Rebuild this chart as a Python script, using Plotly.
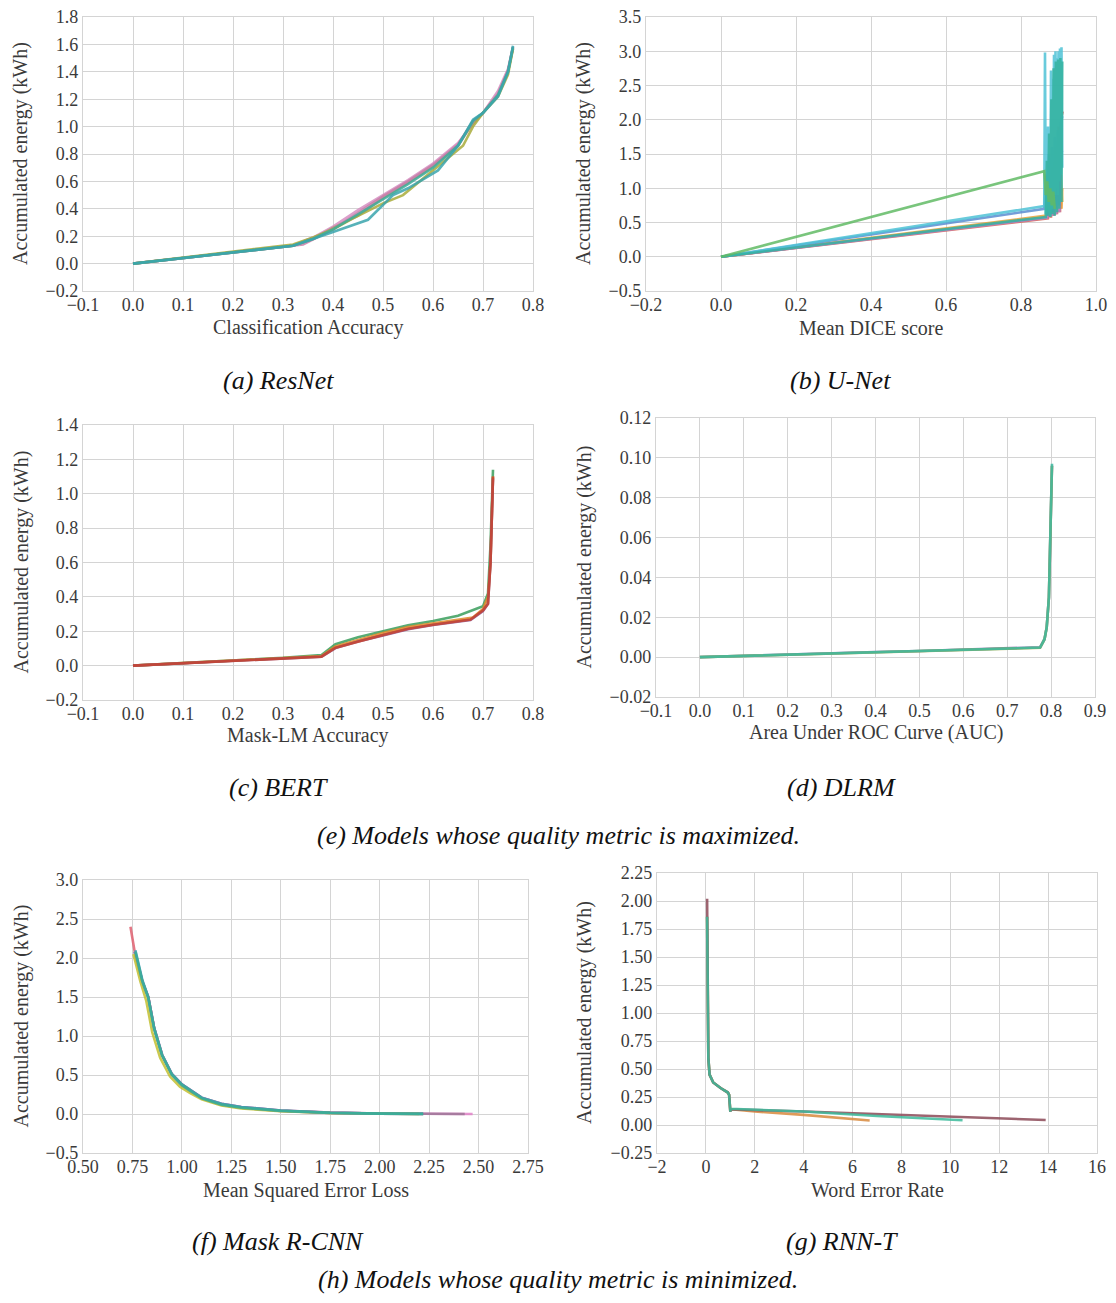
import plotly.graph_objects as go

# page offset from browser default body margin
OFF = 8
W, H = 1100, 1287

# ---------------- data ----------------
# (a) ResNet
resnet_series = [
    ("#d68fc2", [0, 0.32, 0.36, 0.40, 0.45, 0.50, 0.55, 0.60, 0.65, 0.68, 0.70, 0.73, 0.75, 0.76],
                [0, 0.13, 0.19, 0.27, 0.39, 0.50, 0.61, 0.73, 0.88, 1.02, 1.10, 1.26, 1.42, 1.58]),
    ("#b8907a", [0, 0.32, 0.36, 0.40, 0.45, 0.50, 0.55, 0.60, 0.65, 0.68, 0.70, 0.73, 0.75, 0.76],
                [0, 0.13, 0.18, 0.26, 0.35, 0.48, 0.59, 0.71, 0.86, 1.03, 1.10, 1.23, 1.40, 1.57]),
    ("#c77fa8", [0, 0.32, 0.34, 0.40, 0.45, 0.50, 0.55, 0.60, 0.65, 0.68, 0.70, 0.73, 0.75, 0.76],
                [0, 0.13, 0.14, 0.25, 0.37, 0.49, 0.60, 0.72, 0.87, 1.04, 1.10, 1.24, 1.41, 1.58]),
    ("#a9ac3c", [0, 0.32, 0.36, 0.40, 0.44, 0.48, 0.50, 0.54, 0.56, 0.60, 0.66, 0.68, 0.70, 0.73, 0.75, 0.76],
                [0, 0.14, 0.19, 0.25, 0.33, 0.40, 0.44, 0.50, 0.56, 0.68, 0.86, 1.00, 1.10, 1.22, 1.38, 1.57]),
    ("#3dae9a", [0, 0.32, 0.36, 0.40, 0.45, 0.50, 0.55, 0.60, 0.65, 0.68, 0.70, 0.73, 0.75, 0.76],
                [0, 0.13, 0.18, 0.25, 0.36, 0.47, 0.58, 0.70, 0.86, 1.04, 1.10, 1.23, 1.40, 1.58]),
    ("#3aa5ad", [0, 0.32, 0.40, 0.47, 0.52, 0.55, 0.61, 0.65, 0.68, 0.70, 0.73, 0.75, 0.76],
                [0, 0.13, 0.23, 0.32, 0.50, 0.55, 0.68, 0.86, 1.05, 1.10, 1.22, 1.40, 1.59]),
]

# (b) U-Net
unet_series = [
    ("#c9b045", [0, 0.870, 0.874, 0.878, 0.882, 0.886, 0.890, 0.894, 0.898, 0.902, 0.906, 0.910],
                [0, 0.58, 0.75, 0.60, 0.90, 0.62, 1.10, 0.65, 0.95, 0.70, 1.20, 0.80]),
    ("#e8a33a", [0, 0.868, 0.872, 0.876, 0.880, 0.884, 0.888, 0.892, 0.896, 0.900, 0.904, 0.908, 0.910],
                [0, 0.60, 0.70, 0.58, 0.85, 0.60, 0.80, 0.62, 0.95, 0.65, 0.90, 0.70, 1.00]),
    ("#d9604f", [0, 0.872, 0.876, 0.880, 0.884, 0.888, 0.892, 0.896, 0.900, 0.904, 0.908, 0.911],
                [0, 0.56, 0.90, 0.57, 1.30, 0.60, 1.60, 0.62, 1.90, 0.65, 2.05, 2.12]),
    ("#b584d4", [0, 0.870, 0.874, 0.878, 0.882, 0.886, 0.890, 0.894, 0.898, 0.902, 0.906, 0.910],
                [0, 0.57, 1.00, 0.58, 1.20, 0.60, 1.35, 0.62, 1.45, 0.65, 1.50, 1.55]),
    ("#5b8ed2", [0, 0.862, 0.866, 0.870, 0.874, 0.878, 0.882, 0.886, 0.890, 0.894, 0.898, 0.902, 0.906, 0.910],
                [0, 0.70, 1.20, 0.60, 1.50, 0.62, 1.60, 0.65, 1.75, 0.70, 1.85, 0.75, 1.95, 2.05]),
    ("#4fc3d6", [0, 0.862, 0.864, 0.866, 0.868, 0.870, 0.872, 0.874, 0.876, 0.878, 0.880, 0.882, 0.884,
                 0.886, 0.888, 0.890, 0.892, 0.894, 0.896, 0.898, 0.900, 0.902, 0.904, 0.906, 0.908, 0.910],
                [0, 0.74, 2.98, 0.62, 1.40, 0.70, 1.90, 0.65, 1.30, 0.60, 2.72, 0.70, 2.60, 0.80, 2.95,
                 0.90, 3.00, 1.00, 2.90, 0.90, 3.00, 1.10, 3.04, 1.20, 3.06, 1.30]),
    ("#34b3a0", [0, 0.866, 0.869, 0.872, 0.875, 0.878, 0.881, 0.884, 0.887, 0.890, 0.893, 0.896, 0.899,
                 0.902, 0.905, 0.908, 0.910],
                [0, 0.58, 1.40, 0.60, 1.80, 0.58, 2.30, 0.62, 2.75, 0.60, 2.85, 0.65, 2.88, 0.70, 2.90,
                 0.80, 2.85]),
    ("#62bb66", [0, 0.862, 0.866, 0.870, 0.874, 0.878, 0.882, 0.886, 0.890],
                [0, 1.25, 0.90, 1.10, 0.80, 1.00, 0.75, 0.95, 0.70]),
]

# (c) BERT
bert_series = [
    ("#3a9e5c", [0, 0.1, 0.2, 0.3, 0.377, 0.405, 0.45, 0.5, 0.55, 0.6, 0.65, 0.70, 0.71, 0.715, 0.72],
                [0, 0.015, 0.03, 0.045, 0.062, 0.125, 0.165, 0.20, 0.235, 0.26, 0.29, 0.345, 0.42, 0.70, 1.14]),
    ("#e08a2a", [0, 0.1, 0.2, 0.3, 0.377, 0.405, 0.45, 0.5, 0.55, 0.6, 0.68, 0.70, 0.71, 0.715, 0.72],
                [0, 0.014, 0.028, 0.042, 0.056, 0.112, 0.15, 0.19, 0.225, 0.245, 0.28, 0.33, 0.40, 0.60, 1.10]),
    ("#8e4f8e", [0, 0.1, 0.2, 0.3, 0.377, 0.405, 0.45, 0.5, 0.55, 0.6, 0.675, 0.70, 0.71, 0.715, 0.72],
                [0, 0.013, 0.026, 0.040, 0.052, 0.102, 0.14, 0.176, 0.212, 0.236, 0.265, 0.318, 0.36, 0.60, 1.09]),
    ("#c8452e", [0, 0.1, 0.2, 0.3, 0.377, 0.405, 0.45, 0.5, 0.55, 0.6, 0.675, 0.70, 0.71, 0.715, 0.72],
                [0, 0.013, 0.026, 0.040, 0.052, 0.104, 0.14, 0.178, 0.214, 0.238, 0.268, 0.322, 0.36, 0.60, 1.10]),
]

# (d) DLRM
dlrm_series = [
    ("#8b6fb0", [0, 0.1, 0.2, 0.3, 0.4, 0.5, 0.6, 0.7, 0.775, 0.785, 0.79, 0.795, 0.798, 0.800, 0.802],
                [0, 0.0007, 0.0013, 0.0019, 0.0026, 0.0031, 0.0037, 0.0043, 0.0050, 0.009, 0.015, 0.030, 0.060, 0.080, 0.096]),
    ("#a5a83f", [0, 0.1, 0.2, 0.3, 0.4, 0.5, 0.6, 0.7, 0.775, 0.785, 0.79, 0.795, 0.798, 0.800, 0.802],
                [0, 0.0006, 0.0012, 0.0018, 0.0024, 0.0030, 0.0035, 0.0041, 0.0047, 0.009, 0.015, 0.030, 0.060, 0.080, 0.096]),
    ("#3dbaa2", [0, 0.1, 0.2, 0.3, 0.4, 0.5, 0.6, 0.7, 0.775, 0.785, 0.79, 0.795, 0.798, 0.800, 0.802],
                [0, 0.0006, 0.0012, 0.0018, 0.0025, 0.0030, 0.0036, 0.0042, 0.0048, 0.009, 0.015, 0.030, 0.060, 0.080, 0.097]),
]

# (f) Mask R-CNN
maskrcnn_series = [
    ("#e06070", [0.74, 0.76, 0.80, 0.83, 0.86, 0.90, 0.95, 1.00, 1.05, 1.10, 1.20, 1.30, 1.50, 1.75, 2.00, 2.22],
                [2.40, 2.10, 1.70, 1.50, 1.10, 0.75, 0.50, 0.37, 0.28, 0.20, 0.12, 0.08, 0.04, 0.015, 0.005, 0.002]),
    ("#e282c8", [0.76, 0.80, 0.83, 0.86, 0.90, 0.95, 1.00, 1.05, 1.10, 1.20, 1.30, 1.50, 1.75, 2.00, 2.25, 2.47],
                [2.08, 1.70, 1.50, 1.10, 0.76, 0.51, 0.38, 0.29, 0.21, 0.13, 0.09, 0.045, 0.017, 0.006, 0.002, 0.0]),
    ("#9e7898", [0.76, 0.80, 0.83, 0.86, 0.90, 0.95, 1.00, 1.05, 1.10, 1.20, 1.30, 1.50, 1.75, 2.00, 2.25, 2.43],
                [2.08, 1.70, 1.50, 1.10, 0.76, 0.51, 0.38, 0.29, 0.21, 0.13, 0.09, 0.045, 0.017, 0.006, 0.002, 0.0]),
    ("#c2c032", [0.755, 0.79, 0.82, 0.85, 0.89, 0.94, 0.99, 1.04, 1.10, 1.20, 1.30, 1.50, 1.75, 2.00, 2.20],
                [2.05, 1.70, 1.45, 1.05, 0.72, 0.48, 0.35, 0.27, 0.19, 0.11, 0.07, 0.035, 0.012, 0.004, 0.001]),
    ("#3aa0b8", [0.765, 0.80, 0.83, 0.86, 0.90, 0.95, 1.00, 1.05, 1.10, 1.20, 1.30, 1.50, 1.75, 2.00, 2.22],
                [2.10, 1.72, 1.50, 1.10, 0.76, 0.51, 0.38, 0.29, 0.21, 0.13, 0.09, 0.045, 0.016, 0.005, 0.002]),
    ("#3aae96", [0.765, 0.80, 0.83, 0.86, 0.90, 0.95, 1.00, 1.05, 1.10, 1.20, 1.30, 1.50, 1.75, 2.00, 2.22],
                [2.08, 1.70, 1.49, 1.09, 0.75, 0.50, 0.37, 0.28, 0.20, 0.12, 0.08, 0.04, 0.015, 0.005, 0.002]),
]

# (g) RNN-T
rnnt_series = [
    ("#d98a3e", [0.05, 0.07, 0.08, 0.10, 0.15, 0.30, 0.60, 0.90, 0.95, 1.00, 1.02, 2.0, 4.0, 6.7],
                [1.86, 1.40, 1.00, 0.60, 0.45, 0.38, 0.33, 0.29, 0.27, 0.12, 0.14, 0.12, 0.09, 0.04]),
    ("#8c4a58", [0.05, 0.07, 0.08, 0.10, 0.15, 0.30, 0.60, 0.90, 0.95, 1.00, 1.02, 4.0, 8.0, 12.0, 13.9],
                [2.02, 1.50, 1.00, 0.60, 0.45, 0.38, 0.33, 0.29, 0.27, 0.12, 0.14, 0.12, 0.09, 0.06, 0.045]),
    ("#3dbb9c", [0.05, 0.07, 0.08, 0.10, 0.15, 0.30, 0.60, 0.90, 0.95, 1.00, 1.02, 4.0, 7.0, 10.5],
                [1.86, 1.40, 1.00, 0.60, 0.45, 0.38, 0.33, 0.29, 0.27, 0.12, 0.145, 0.12, 0.08, 0.042]),
]

YLABEL = "Accumulated energy (kWh)"

panels = [
    # series, xlabel, xrange, xdtick, yrange, ydtick, px x0,x1, px y0(top),y1(bottom), xfmt, yfmt, xlabel y, ylabel x
    (resnet_series, "Classification Accuracy", [-0.1, 0.8], 0.1, [-0.2, 1.8], 0.2, 83, 533, 17, 291, ".1f", ".1f", 328, 21),
    (unet_series, "Mean DICE score", [-0.2, 1.0], 0.2, [-0.5, 3.5], 0.5, 646, 1096, 17, 291, ".1f", ".1f", 328, 584),
    (bert_series, "Mask-LM Accuracy", [-0.1, 0.8], 0.1, [-0.2, 1.4], 0.2, 83, 533, 425, 700, ".1f", ".1f", 735, 21),
    (dlrm_series, "Area Under ROC Curve (AUC)", [-0.1, 0.9], 0.1, [-0.02, 0.12], 0.02, 656, 1095, 418, 697, ".1f", ".2f", 733, 584),
    (maskrcnn_series, "Mean Squared Error Loss", [0.5, 2.75], 0.25, [-0.5, 3.0], 0.5, 83, 528, 880, 1153, ".2f", ".1f", 1190, 21),
    (rnnt_series, "Word Error Rate", [-2, 16], 2, [-0.25, 2.25], 0.25, 657, 1097, 873, 1153, "d", ".2f", 1190, 584),
]

captions = [
    ("(a) ResNet", 278, 380),
    ("(b) U-Net", 840, 380),
    ("(c) BERT", 278, 787),
    ("(d) DLRM", 841, 787),
    ("(e) Models whose quality metric is maximized.", 558, 835),
    ("(f) Mask R-CNN", 278, 1241),
    ("(g) RNN-T", 842, 1241),
    ("(h) Models whose quality metric is minimized.", 558, 1279),
]

FONT = "Liberation Serif"
TICK_COLOR = "#3a3a3a"
GRID = "#d4d4d4"


def px_x(p):
    return (p - OFF) / W


def px_y(p):
    return 1 - (p - OFF) / H


fig = go.Figure()
layout = dict(
    width=W, height=H,
    margin=dict(l=0, r=0, t=0, b=0),
    paper_bgcolor="white", plot_bgcolor="white",
    showlegend=False,
    font=dict(family=FONT, color=TICK_COLOR, size=18),
)
annotations = []

for i, (series, xlabel, xr, xd, yr, yd, x0, x1, y0, y1, xf, yf, xly, ylx) in enumerate(panels):
    n = "" if i == 0 else str(i + 1)
    xa, ya = "x" + n, "y" + n
    for color, xs, ys in series:
        fig.add_trace(go.Scatter(x=xs, y=ys, mode="lines", xaxis=xa, yaxis=ya,
                                 line=dict(color=color, width=2.6), opacity=0.85,
                                 hoverinfo="skip"))
    common = dict(showgrid=True, gridcolor=GRID, gridwidth=1.3, zeroline=False,
                  showline=True, linecolor=GRID, linewidth=1.3, mirror=True,
                  ticks="", ticklen=0, automargin=False, ticklabeloverflow="allow",
                  tickfont=dict(family=FONT, size=18, color=TICK_COLOR))
    layout["xaxis" + n] = dict(common, domain=[px_x(x0), px_x(x1)], range=xr, dtick=xd, tick0=xr[0],
                               anchor=ya, tickformat=xf, ticklabelstandoff=-3)
    layout["yaxis" + n] = dict(common, domain=[px_y(y1), px_y(y0)], range=yr, dtick=yd, tick0=yr[0],
                               anchor=xa, tickformat=yf)
    # axis titles
    annotations.append(dict(text=xlabel, x=px_x((x0 + x1) / 2), y=px_y(xly), xref="paper", yref="paper",
                            showarrow=False, xanchor="center", yanchor="middle",
                            font=dict(family=FONT, size=20, color=TICK_COLOR)))
    annotations.append(dict(text=YLABEL, x=px_x(ylx), y=px_y((y0 + y1) / 2), xref="paper", yref="paper",
                            showarrow=False, xanchor="center", yanchor="middle", textangle=-90,
                            font=dict(family=FONT, size=20, color=TICK_COLOR)))

for text, cx, cy in captions:
    annotations.append(dict(text="<i>" + text + "</i>", x=px_x(cx), y=px_y(cy), xref="paper", yref="paper",
                            showarrow=False, xanchor="center", yanchor="middle",
                            font=dict(family=FONT, size=26, color="#111111")))
layout["annotations"] = annotations

fig.update_layout(**layout)
fig.write_html("out.html")
